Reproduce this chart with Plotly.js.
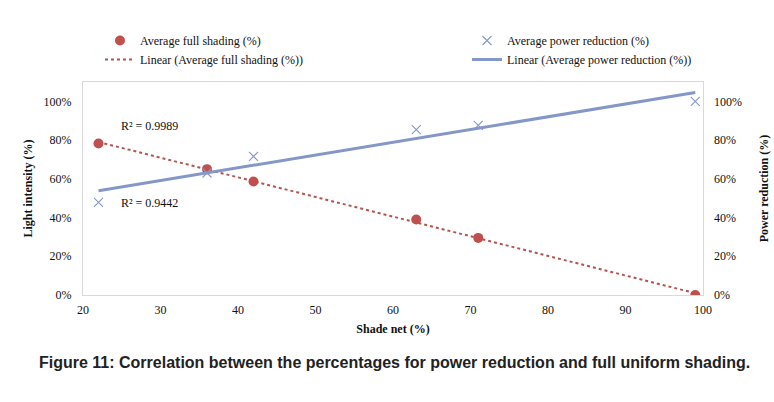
<!DOCTYPE html>
<html>
<head>
<meta charset="utf-8">
<script src="https://cdn.plot.ly/plotly-3.0.1.min.js"></script>
<style>
html,body{margin:0;padding:0;background:#fff;}
#chart{width:774px;height:402px;}
</style>
</head>
<body>
<div id="chart"></div>
<script>
const shadeNet = [22, 36, 42, 63, 71, 99];
const fullShading = [0.782, 0.650, 0.586, 0.390, 0.295, 0.000];
const powerReduction = [0.478, 0.630, 0.716, 0.854, 0.876, 1.000];
const yTicks = [0, 0.2, 0.4, 0.6, 0.8, 1.0];
const yTickText = ['0%', '20%', '40%', '60%', '80%', '100%'];
const xTicks = [20, 30, 40, 50, 60, 70, 80, 90, 100];
const r2Full = 'R² = 0.9989';
const r2Power = 'R² = 0.9442';

function linFit(xs, ys) {
  const n = xs.length;
  const mx = xs.reduce((a, b) => a + b, 0) / n;
  const my = ys.reduce((a, b) => a + b, 0) / n;
  let sxy = 0, sxx = 0;
  for (let i = 0; i < n; i++) { sxy += (xs[i] - mx) * (ys[i] - my); sxx += (xs[i] - mx) ** 2; }
  const m = sxy / sxx, b = my - m * mx;
  const x0 = Math.min(...xs), x1 = Math.max(...xs);
  return { x: [x0, x1], y: [m * x0 + b, m * x1 + b] };
}
const fitFull = linFit(shadeNet, fullShading);
const fitPower = linFit(shadeNet, powerReduction);

const red = '#c0504d';
const blue = '#8497c8';
const serif = 'Liberation Serif, Times New Roman, serif';

// plot area pixel geometry helpers (paper coords)
const PL = 83, PR = 703, PT = 82, PB = 295;
const px2x = p => (p - PL) / (PR - PL);
const py2y = p => (PB - p) / (PB - PT);

const traces = [
  { x: fitFull.x, y: fitFull.y, mode: 'lines', name: 'Linear (Average full shading (%))',
    line: { color: '#b5534f', width: 2, dash: 'dot' }, legend: 'legend', legendrank: 2, hoverinfo: 'skip' },
  { x: fitPower.x, y: fitPower.y, mode: 'lines', name: 'Linear (Average power reduction (%))',
    line: { color: blue, width: 3 }, legend: 'legend2', legendrank: 2, yaxis: 'y2', hoverinfo: 'skip' },
  { x: shadeNet, y: fullShading, mode: 'markers', name: 'Average full shading (%)',
    marker: { color: red, size: 10, symbol: 'circle' }, legend: 'legend', legendrank: 1 },
  { x: shadeNet, y: powerReduction, mode: 'markers', name: 'Average power reduction (%)',
    marker: { color: blue, size: 9, symbol: 'x-thin-open', line: { color: blue, width: 1.1 } },
    legend: 'legend2', legendrank: 1, yaxis: 'y2' }
];

const layout = {
  width: 774, height: 402,
  margin: { l: PL, r: 774 - PR, t: PT, b: 402 - PB, autoexpand: false },
  paper_bgcolor: '#fff', plot_bgcolor: '#fff',
  font: { family: serif, size: 12, color: '#111' },
  showlegend: true,
  legend: { x: px2x(100), y: py2y(26), xanchor: 'left', yanchor: 'top',
    orientation: 'v', font: { family: serif, size: 12, color: '#111' }, bgcolor: 'rgba(0,0,0,0)', tracegroupgap: 0 },
  legend2: { x: px2x(467), y: py2y(26), xanchor: 'left', yanchor: 'top',
    orientation: 'v', font: { family: serif, size: 12, color: '#111' }, bgcolor: 'rgba(0,0,0,0)', tracegroupgap: 0 },
  xaxis: {
    range: [20, 100], tickvals: xTicks, ticks: '', showgrid: false, zeroline: false, automargin: false,
    showline: true, linecolor: '#d9d9d9', linewidth: 1, mirror: true, ticklabelstandoff: 4,
    tickfont: { family: serif, size: 12, color: '#111' },
    title: { text: '<b>Shade net (%)</b>', font: { family: serif, size: 12, color: '#111' }, standoff: 8 }
  },
  yaxis: {
    range: [0, 1.1], tickvals: yTicks, ticktext: yTickText, ticks: '', showgrid: false, zeroline: false, automargin: false,
    showline: true, linecolor: '#d9d9d9', linewidth: 1, mirror: true, ticklabelstandoff: 8,
    tickfont: { family: serif, size: 12, color: '#111' },
    title: { text: '<b>Light intensity (%)</b>', font: { family: serif, size: 12, color: '#111' }, standoff: 8 }
  },
  yaxis2: {
    range: [0, 1.1], tickvals: yTicks, ticktext: yTickText, ticks: '', showgrid: false, zeroline: false, automargin: false,
    overlaying: 'y', side: 'right', showline: false, ticklabelstandoff: 10,
    tickfont: { family: serif, size: 12, color: '#111' },
    title: { text: '<b>Power reduction (%)</b>', font: { family: serif, size: 12, color: '#111' }, standoff: 18 }
  },
  annotations: [
    { xref: 'x', yref: 'y', x: 24.6, y: 0.872, text: r2Full, showarrow: false, xanchor: 'left',
      font: { family: serif, size: 12, color: '#111' } },
    { xref: 'x', yref: 'y', x: 24.7, y: 0.474, text: r2Power, showarrow: false, xanchor: 'left',
      font: { family: serif, size: 12, color: '#111' } },
    { xref: 'paper', yref: 'paper', x: px2x(395), y: py2y(362), xanchor: 'center', yanchor: 'middle',
      text: '<b>Figure 11: Correlation between the percentages for power reduction and full uniform shading.</b>',
      showarrow: false, font: { family: 'Liberation Sans, Arial, sans-serif', size: 16, color: '#222' } }
  ]
};

Plotly.newPlot('chart', traces, layout, { displayModeBar: false, staticPlot: true });
</script>
</body>
</html>
